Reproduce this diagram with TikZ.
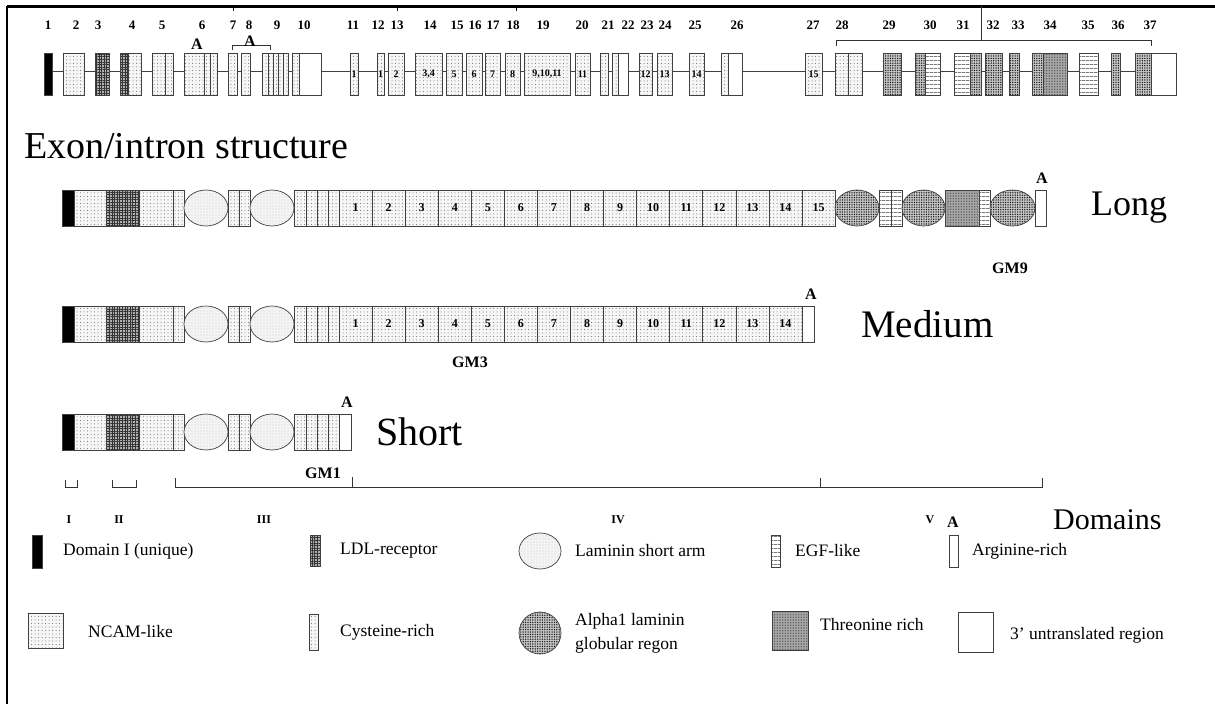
\documentclass[tikz,border=0pt]{standalone}
\usepackage{fontspec}
\setmainfont{Liberation Serif}
\usetikzlibrary{patterns.meta}
\tikzset{
  bx/.style={draw=black!75, line width=0.7pt},
  blk/.style={bx, fill=black},
  ncam/.style={bx, preaction={fill=gray!7}, pattern={Dots[distance=3.5pt,radius=0.5pt]}, pattern color=black!60},
  ldl/.style={bx, preaction={fill=gray!62}, pattern={Hatch[distance=2.6pt,angle=0,line width=0.5pt]}, pattern color=black!80},
  alph/.style={bx, preaction={fill=gray!45}, pattern={Dots[distance=2.4pt,radius=0.75pt]}, pattern color=black!90},
  thr/.style={bx, preaction={fill=gray!62}, pattern={Dots[distance=1.6pt,radius=0.45pt]}, pattern color=black!75},
  egf/.style={bx, preaction={fill=white}, pattern={Lines[distance=4pt,angle=0,line width=0.6pt]}, pattern color=black!80},
  wht/.style={bx, fill=white},
  lam/.style={bx, preaction={fill=gray!8}, pattern={Dots[distance=3pt,radius=0.4pt]}, pattern color=black!50},
  toplab/.style={inner sep=0pt, font=\bfseries\fontsize{13}{13}\selectfont},
  inlab/.style={inner sep=0pt, font=\bfseries\fontsize{10}{10}\selectfont},
  num/.style={inner sep=0pt, font=\bfseries\fontsize{12}{12}\selectfont},
  amark/.style={inner sep=0pt, font=\bfseries\fontsize{16}{16}\selectfont},
  gm/.style={inner sep=0pt, font=\bfseries\fontsize{16}{16}\selectfont},
  big/.style={inner sep=0pt, anchor=west, font=\fontsize{36}{36}\selectfont},
  dom/.style={inner sep=0pt, font=\bfseries\fontsize{12}{12}\selectfont},
  leg/.style={inner sep=0pt, anchor=west, font=\fontsize{17.5}{24}\selectfont, align=left},
  brk/.style={draw=black!80, line width=1pt},
}
% common prefix of the three protein forms: #1 top, #2 bottom
\newcommand\protprefix[2]{%
  \path[blk] (62,#1) rectangle (74,#2);
  \path[ncam] (74,#1) rectangle (106,#2);
  \path[ldl] (106,#1) rectangle (139,#2);
  \path[ncam] (139,#1) rectangle (173,#2);
  \path[ncam] (173,#1) rectangle (184,#2);
  \path[lam] (206,{(#1+#2)/2}) ellipse [x radius=22, y radius={(#2-#1)/2}];
  \path[ncam] (228,#1) rectangle (239,#2);
  \path[ncam] (239,#1) rectangle (250,#2);
  \path[lam] (272,{(#1+#2)/2}) ellipse [x radius=22, y radius={(#2-#1)/2}];
  \path[ncam] (294,#1) rectangle (306,#2);
  \path[ncam] (306,#1) rectangle (317,#2);
  \path[ncam] (317,#1) rectangle (328,#2);
  \path[ncam] (328,#1) rectangle (339,#2);
}
\begin{document}
\begin{tikzpicture}[x=1pt,y=-1pt]
\useasboundingbox (0,0) rectangle (1215,704);
% frame
\draw[line width=3pt] (7,6) -- (1215,6);
\draw[line width=2.5pt] (7,6) -- (7,704);
\foreach \x in {233,397,516} \draw[line width=0.8pt] (\x,6) -- (\x,11);

% ---------- exon / intron structure ----------
\def\T{53}\def\B{95}
\draw[line width=0.9pt, black!75] (52,71) -- (1135,71);
\path[blk] (44,\T) rectangle (52,\B);
\path[ncam] (63,\T) rectangle (84,\B);
\path[ldl] (95,\T) rectangle (109,\B);
\path[ldl] (120,\T) rectangle (128,\B);
\path[ncam] (128,\T) rectangle (141,\B);
\path[ncam] (152,\T) rectangle (165,\B);
\path[ncam] (165,\T) rectangle (173,\B);
\path[ncam] (184,\T) rectangle (204,\B);
\path[ncam] (204,\T) rectangle (210,\B);
\path[ncam] (210,\T) rectangle (217,\B);
\path[ncam] (228,\T) rectangle (237,\B);
\path[ncam] (241,\T) rectangle (250,\B);
\foreach \a/\b in {262/268,268/273,273/278,278/283,283/288}
  \path[ncam] (\a,\T) rectangle (\b,\B);
\path[ncam] (292,\T) rectangle (299,\B);
\path[wht] (299,\T) rectangle (321,\B);
\foreach \a/\b/\t [count=\k] in {350/358/1,377/384/1,388/404/2,415/442/{3,4},446/462/5,466/482/6,485/500/7,505/520/8,524/570/{9,10,11},575/590/11,639/652/12,657/672/13,689/704/14,805/822/15}{
  \path[ncam] (\a,\T) rectangle (\b,\B);
  \node[inlab] (x\k) at ({(\a+\b)/2},74) {\t};
}
\path[ncam] (600,\T) rectangle (608,\B);
\path[ncam] (612,\T) rectangle (618,\B);
\path[wht] (618,\T) rectangle (628,\B);
\path[ncam] (721,\T) rectangle (728,\B);
\path[wht] (728,\T) rectangle (742,\B);
\path[ncam] (835,\T) rectangle (848,\B);
\path[ncam] (848,\T) rectangle (862,\B);
\path[alph] (883,\T) rectangle (901,\B);
\path[alph] (915,\T) rectangle (925,\B);
\path[egf] (925,\T) rectangle (940,\B);
\path[egf] (954,\T) rectangle (970,\B);
\path[alph] (970,\T) rectangle (981,\B);
\path[alph] (985,\T) rectangle (1002,\B);
\path[alph] (1009,\T) rectangle (1019,\B);
\path[alph] (1032,\T) rectangle (1043,\B);
\path[thr] (1043,\T) rectangle (1067,\B);
\path[egf] (1079,\T) rectangle (1098,\B);
\path[alph] (1111,\T) rectangle (1120,\B);
\path[alph] (1135,\T) rectangle (1151,\B);
\path[wht] (1151,\T) rectangle (1176,\B);

% exon numbers
\foreach \n/\x in {1/48,2/76,3/98,4/132,5/162,6/202,7/233,8/249,9/277,10/304,11/353,12/378,13/397,14/430,15/457,16/475,17/493,18/513,19/543,20/582,21/608,22/628,23/647,24/665,25/695,26/737,27/813,28/842,29/889,30/930,31/963,32/993,33/1018,34/1050,35/1088,36/1118,37/1150}
  \node[toplab] (n\n) at (\x,25) {\n};

% A marks and brackets
\node[amark] (a6) at (197,44) {A};
\draw[brk] (232,50) -- (232,45) -- (270,45) -- (270,50);
\node[amark] (a79) at (250,41) {A};
\draw[brk] (981,6) -- (981,40);
\draw[brk] (836,46) -- (836,40) -- (1151,40) -- (1151,46);

\node[big, font=\fontsize{38}{38}\selectfont] (title) at (24,146) {Exon/intron structure};

% ---------- Long ----------
\def\LT{190}\def\LB{226}
\protprefix{\LT}{\LB}
\foreach \i in {1,...,15}{
  \pgfmathsetmacro\xa{339+(\i-1)*33.07}
  \pgfmathsetmacro\xb{\xa+33.07}
  \path[ncam] (\xa,\LT) rectangle (\xb,\LB);
  \node[num] (L\i) at ({(\xa+\xb)/2},208) {\i};
}
\path[alph] (857,208) ellipse [x radius=22, y radius=18];
\path[egf] (879,\LT) rectangle (891,\LB);
\path[egf] (891,\LT) rectangle (902,\LB);
\path[alph] (923.5,208) ellipse [x radius=21.5, y radius=18];
\path[thr] (945,\LT) rectangle (979,\LB);
\path[egf] (979,\LT) rectangle (990,\LB);
\path[alph] (1012.5,208) ellipse [x radius=22.5, y radius=18];
\path[wht] (1035,\LT) rectangle (1046,\LB);
\node[amark] (aL) at (1042,178) {A};
\node[gm] (gm9) at (1010,268) {GM9};
\node[big] (long) at (1091,208) {Long};

% ---------- Medium ----------
\def\MT{306}\def\MB{342}
\protprefix{\MT}{\MB}
\foreach \i in {1,...,14}{
  \pgfmathsetmacro\xa{339+(\i-1)*33.07}
  \pgfmathsetmacro\xb{\xa+33.07}
  \path[ncam] (\xa,\MT) rectangle (\xb,\MB);
  \node[num] (M\i) at ({(\xa+\xb)/2},324) {\i};
}
\path[wht] (802,\MT) rectangle (814,\MB);
\node[amark] (aM) at (811,294) {A};
\node[gm] (gm3) at (470,362) {GM3};
\node[big, font=\fontsize{39}{39}\selectfont] (medium) at (861,324) {Medium};

% ---------- Short ----------
\def\ST{414}\def\SB{450}
\protprefix{\ST}{\SB}
\path[wht] (339,\ST) rectangle (351,\SB);
\node[amark] (aS) at (347,402) {A};
\node[big, font=\fontsize{40}{40}\selectfont] (short) at (376,432) {Short};
\node[gm] (gm1) at (323,473) {GM1};

% ---------- Domains ----------
\draw[brk] (65,480) -- (65,487) -- (77,487) -- (77,480);
\draw[brk] (112,480) -- (112,487) -- (136,487) -- (136,480);
\draw[brk] (175,478) -- (175,487) -- (1042,487) -- (1042,478);
\draw[brk] (352,477) -- (352,487);
\draw[brk] (820,478) -- (820,487);
\node[dom] (dI) at (69,520) {I};
\node[dom] (dII) at (119,520) {II};
\node[dom] (dIII) at (264,520) {III};
\node[dom] (dIV) at (618,520) {IV};
\node[dom] (dV) at (930,520) {V};
\node[big, font=\fontsize{30}{30}\selectfont] (domains) at (1053,520) {Domains};

% ---------- Legend ----------
\path[blk] (32,535) rectangle (42,568);
\node[leg] (t1) at (63,551) {Domain I (unique)};
\path[ldl] (310,535) rectangle (320,566);
\node[leg] (t2) at (340,551) {LDL-receptor};
\path[lam] (540,551) ellipse [x radius=21, y radius=18];
\node[leg] (t3) at (575,551) {Laminin short arm};
\path[egf] (771,535) rectangle (780,567);
\node[leg] (t4) at (795,551) {EGF-like};
\node[amark] (aLeg) at (953,522) {A};
\path[wht] (949,535) rectangle (958,567);
\node[leg] (t5) at (972,551) {Arginine-rich};

\path[ncam] (28,613) rectangle (63,648);
\node[leg] (t6) at (88,632) {NCAM-like};
\path[ncam] (309,614) rectangle (318,650);
\node[leg] (t7) at (340,632) {Cysteine-rich};
\path[alph] (540,633) ellipse [x radius=21, y radius=21];
\node[leg] (t8) at (575,633) {Alpha1 laminin\\globular regon};
\path[thr] (772,611) rectangle (808,650);
\node[leg] (t9) at (820,625) {Threonine rich};
\path[wht] (958,612) rectangle (993,652);
\node[leg] (t10) at (1010,635) {3' untranslated region};
\end{tikzpicture}
\end{document}
